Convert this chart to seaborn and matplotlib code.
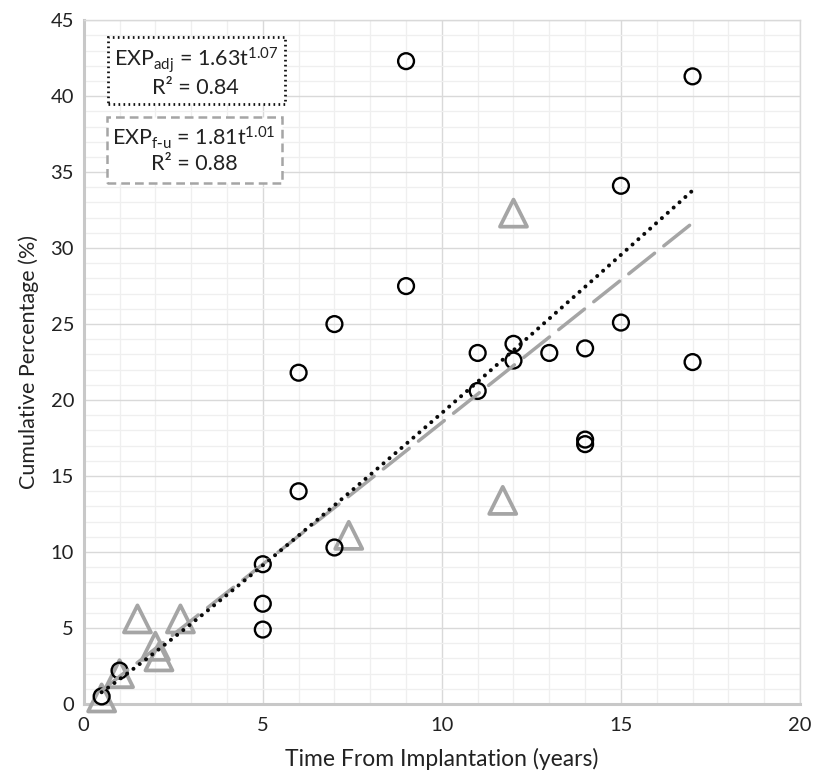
import matplotlib
matplotlib.use("Agg")
import matplotlib.pyplot as plt
from matplotlib.patches import Rectangle
from matplotlib.ticker import MultipleLocator
import numpy as np
import pandas as pd
import seaborn as sns

# circles (adjusted series)
adj_t = [0.5, 1, 5, 5, 5, 6, 6, 7, 7, 9, 9, 11, 11, 12, 12, 13, 14, 14, 14, 15, 15, 17, 17]
adj_pct = [0.5, 2.2, 9.2, 6.6, 4.9, 21.8, 14.0, 25.0, 10.3, 42.3, 27.5,
           23.1, 20.6, 23.7, 22.6, 23.1, 23.4, 17.4, 17.1, 34.1, 25.1, 41.3, 22.5]

# triangles (follow-up series)
fu_t = [0.5, 1.0, 1.5, 2.0, 2.1, 2.7, 7.4, 11.7, 12.0]
fu_pct = [0.4, 2.0, 5.6, 3.8, 3.1, 5.6, 11.1, 13.4, 32.3]

# power trendlines, coefficients as printed on the chart
adj_coef, adj_exp, adj_r2 = 1.63, 1.07, 0.84
fu_coef, fu_exp, fu_r2 = 1.81, 1.01, 0.88
fit_start, fit_end = 0.5, 17

gray = "#a5a5a5"
ink = "#222222"

sns.set_style("white")
plt.rcParams["font.family"] = ["Lato", "DejaVu Sans"]
plt.rcParams["mathtext.default"] = "regular"

fig, ax = plt.subplots(figsize=(8.13, 7.74), dpi=100)
fig.subplots_adjust(left=0.103, right=0.984, top=0.974, bottom=0.0904)

circles = pd.DataFrame({"t": adj_t, "pct": adj_pct})
triangles = pd.DataFrame({"t": fu_t, "pct": fu_pct})

sns.scatterplot(data=triangles, x="t", y="pct", marker="^", s=380,
                facecolors="none", edgecolor=gray, linewidth=2.7, ax=ax,
                zorder=3, clip_on=False)
sns.scatterplot(data=circles, x="t", y="pct", marker="o", s=130,
                facecolors="none", edgecolor="black", linewidth=1.7, ax=ax,
                zorder=4, clip_on=False)

t_fit = np.linspace(fit_start, fit_end, 200)
fits = pd.DataFrame({
    "t": t_fit,
    "adj": adj_coef * t_fit ** adj_exp,
    "fu": fu_coef * t_fit ** fu_exp,
})
sns.lineplot(data=fits, x="t", y="fu", color=gray, linewidth=2.5,
             linestyle=(0, (9.5, 3.4)), dash_capstyle="round", ax=ax, zorder=5)
sns.lineplot(data=fits, x="t", y="adj", color="#0a0a0a", linewidth=2.9,
             linestyle=(0, (0.01, 1.95)), dash_capstyle="round", ax=ax, zorder=6)

ax.set_xlim(0, 20)
ax.set_ylim(0, 45)
ax.xaxis.set_major_locator(MultipleLocator(5))
ax.xaxis.set_minor_locator(MultipleLocator(1))
ax.yaxis.set_major_locator(MultipleLocator(5))
ax.yaxis.set_minor_locator(MultipleLocator(1))
ax.grid(which="major", color="#d9d9d9", linewidth=1.0, zorder=0)
ax.grid(which="minor", color="#efefef", linewidth=0.9, zorder=0)
ax.set_axisbelow(True)
ax.tick_params(which="both", length=0, labelsize=14.5, labelcolor=ink)
ax.tick_params(axis="x", pad=9)
ax.tick_params(axis="y", pad=7)

for side in ["top", "right"]:
    ax.spines[side].set_color("#d9d9d9")
    ax.spines[side].set_linewidth(1.0)
for side in ["left", "bottom"]:
    ax.spines[side].set_color("#c8c8c8")
    ax.spines[side].set_linewidth(2.2)

ax.set_xlabel("Time From Implantation (years)", fontsize=16.5, color=ink, labelpad=10)
ax.set_ylabel("Cumulative Percentage (%)", fontsize=15.5, color=ink, labelpad=8)

# equation boxes
ax.add_patch(Rectangle((0.67, 39.47), 4.94, 4.41, fc="white", ec="#111111",
                       ls=(0, (0.6, 1.2)), lw=2.0, zorder=7))
ax.add_patch(Rectangle((0.64, 34.28), 4.89, 4.34, fc="white", ec=gray,
                       ls=(0, (3.5, 2)), lw=1.8, zorder=7))
ax.text(3.13, 41.6,
        f"EXP$_{{adj}}$ = {adj_coef}t$^{{{adj_exp}}}$\nR\u00b2 = {adj_r2}",
        ha="center", va="center", fontsize=15.5, color=ink, linespacing=1.15, zorder=8)
ax.text(3.08, 36.5,
        f"EXP$_{{f\\text{{-}}u}}$ = {fu_coef}t$^{{{fu_exp}}}$\nR\u00b2 = {fu_r2}",
        ha="center", va="center", fontsize=15.5, color=ink, linespacing=1.15, zorder=8)

fig.savefig("out.png", dpi=100)
